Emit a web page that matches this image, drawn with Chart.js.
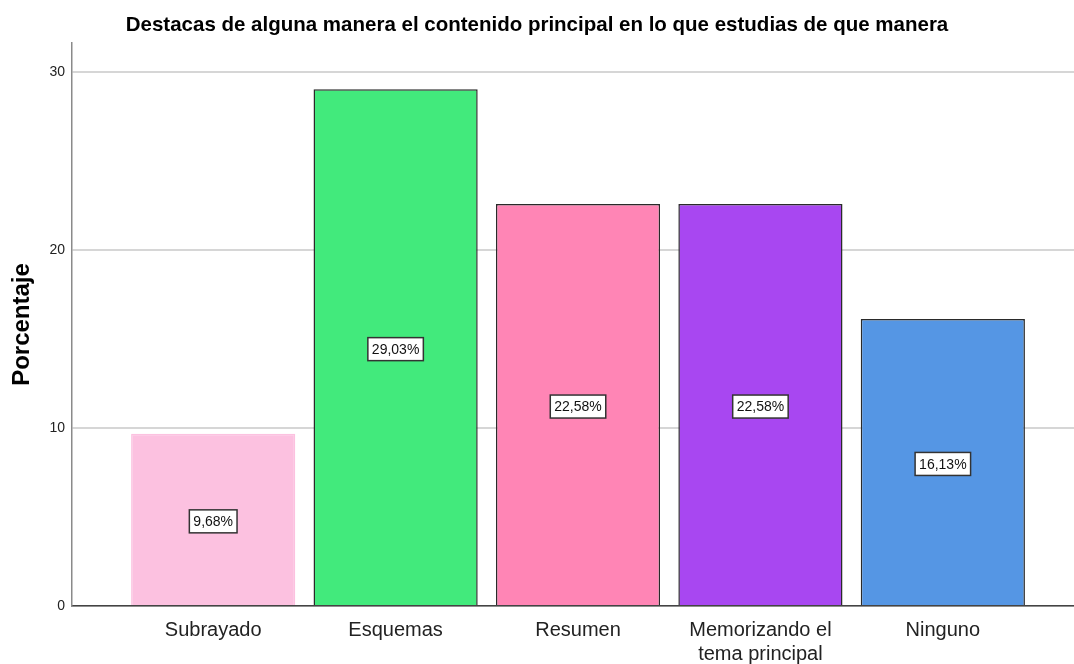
<!DOCTYPE html>
<html>
<head>
<meta charset="utf-8">
<script src="https://cdn.jsdelivr.net/npm/chart.js@4/dist/chart.umd.min.js"></script>
<style>
  html, body { margin: 0; padding: 0; background: #fff; }
  #wrap { width: 1074px; height: 664px; }
</style>
</head>
<body>
<div id="wrap"><canvas id="c" width="1074" height="664"></canvas></div>
<script>
const categories = ['Subrayado', 'Esquemas', 'Resumen', ['Memorizando el', 'tema principal'], 'Ninguno'];
const percentages = [9.68, 29.03, 22.58, 22.58, 16.13];
const yTicks = [0, 10, 20, 30];
const barColors = ['#FCC1E0', '#42EA7C', '#FF85B5', '#A847F1', '#5596E4'];
const barBorders = ['#FCC1E0', '#2a2a2a', '#2a2a2a', '#2a2a2a', '#2a2a2a'];

const FONT = "'Liberation Sans', Arial, sans-serif";

const valueLabels = {
  id: 'valueLabels',
  afterDatasetsDraw(chart) {
    const ctx = chart.ctx;
    const meta = chart.getDatasetMeta(0);
    ctx.save();
    ctx.font = '14px ' + FONT;
    ctx.textAlign = 'center';
    ctx.textBaseline = 'middle';
    meta.data.forEach((el, i) => {
      const txt = percentages[i].toFixed(2).replace('.', ',') + '%';
      const x = el.x;
      const y = (el.y + el.base) / 2 + 2;
      const w = ctx.measureText(txt).width + 8;
      const h = 23;
      ctx.fillStyle = '#ffffff';
      ctx.fillRect(x - w / 2, y - h / 2, w, h);
      ctx.strokeStyle = '#333333';
      ctx.lineWidth = 1.5;
      ctx.strokeRect(x - w / 2, y - h / 2, w, h);
      ctx.fillStyle = '#111111';
      ctx.fillText(txt, x, y + 1);
    });
    ctx.restore();
  }
};

new Chart(document.getElementById('c'), {
  type: 'bar',
  data: {
    datasets: [{
      data: percentages.map((v, i) => ({ x: i, y: v })),
      backgroundColor: barColors,
      borderColor: barBorders,
      borderWidth: 1.5,
      categoryPercentage: 1,
      barPercentage: 0.9
    }]
  },
  options: {
    responsive: false,
    animation: false,
    devicePixelRatio: 1,
    layout: { padding: 0 },
    plugins: {
      legend: { display: false },
      tooltip: { enabled: false },
      title: {
        display: true,
        text: 'Destacas de alguna manera el contenido principal en lo que estudias de que manera',
        color: '#000',
        font: { family: FONT, size: 20.5, weight: 'bold', lineHeight: 1.2 },
        padding: { top: 13.5, bottom: 4.9 }
      }
    },
    scales: {
      x: {
        type: 'linear',
        offset: false,
        bounds: 'data',
        min: -0.774,
        max: 4.719,
        afterFit(scale) { scale.height = 58; },
        afterBuildTicks(scale) { scale.ticks = categories.map((_, i) => ({ value: i })); },
        grid: { display: false, drawTicks: false, offset: false },
        border: { display: true, color: '#444', width: 1.5 },
        ticks: {
          autoSkip: false,
          maxRotation: 0,
          padding: 12,
          color: '#222',
          font: { family: FONT, size: 20, lineHeight: 1.2 },
          callback: (v) => categories[v]
        }
      },
      y: {
        min: 0,
        max: 31.63,
        afterFit(scale) { scale.width = 72; },
        afterBuildTicks(scale) { scale.ticks = yTicks.map(v => ({ value: v })); },
        grid: { color: '#d6d6d6', lineWidth: 2, drawTicks: false },
        border: { display: true, color: '#8a8a8a', width: 1.5 },
        ticks: {
          padding: 7,
          color: '#222',
          font: { family: FONT, size: 14 }
        },
        title: {
          display: true,
          text: 'Porcentaje',
          color: '#000',
          font: { family: FONT, size: 24, weight: 'bold', lineHeight: 1.2 },
          padding: { top: 8, bottom: 0 }
        }
      }
    }
  },
  plugins: [valueLabels]
});
</script>
</body>
</html>
